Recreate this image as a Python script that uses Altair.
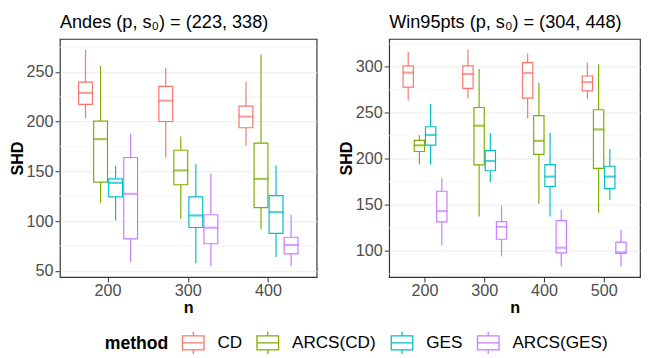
import altair as alt
import pandas as pd

methods = ["CD", "ARCS(CD)", "GES", "ARCS(GES)"]
colors = ["#F8766D", "#7CAE00", "#00BFC4", "#C77CFF"]

# ---- Andes (p, s0) = (223, 338) ----
andes_n = [200, 300, 400]
andes_lo = {"CD": [203.4, 164.1, 175.9], "ARCS(CD)": [118.5, 102.5, 91.6],
            "GES": [100.5, 57.5, 63.8], "ARCS(GES)": [58.9, 54.6, 54.6]}
andes_q1 = {"CD": [217.5, 200.2, 193.9], "ARCS(CD)": [139.2, 136.6, 113.6],
            "GES": [124.4, 93.6, 87.7], "ARCS(GES)": [82.1, 77.2, 67.0]}
andes_med = {"CD": [229.0, 221.1, 205.1], "ARCS(CD)": [182.5, 151.0, 142.5],
             "GES": [138.5, 105.7, 109.0], "ARCS(GES)": [127.4, 93.3, 75.9]}
andes_q3 = {"CD": [239.8, 235.6, 215.6], "ARCS(CD)": [200.5, 171.3, 178.5],
            "GES": [142.5, 124.4, 125.7], "ARCS(GES)": [164.0, 106.4, 83.8]}
andes_hi = {"CD": [272.3, 254.0, 240.2], "ARCS(CD)": [255.9, 185.0, 267.7],
            "GES": [155.6, 157.2, 156.2], "ARCS(GES)": [188.0, 148.0, 106.4]}

# ---- Win95pts (p, s0) = (304, 448) ----
win_n = [200, 300, 400, 500]
win_lo = {"CD": [263.5, 265.7, 243.7, 265.3], "ARCS(CD)": [193.8, 137.5, 151.3, 141.4],
          "GES": [193.8, 175.0, 137.5, 155.2], "ARCS(GES)": [106.0, 94.0, 83.4, 83.4]}
win_q1 = {"CD": [278.0, 276.6, 266.0, 273.8], "ARCS(CD)": [208.0, 193.5, 204.8, 189.6],
          "GES": [215.0, 187.1, 170.0, 167.6], "ARCS(GES)": [131.5, 112.7, 97.9, 97.2]}
win_med = {"CD": [293.6, 292.2, 293.3, 283.4], "ARCS(CD)": [214.7, 236.0, 219.6, 232.0],
           "GES": [226.0, 197.7, 180.7, 180.7], "ARCS(GES)": [143.2, 126.2, 103.5, 98.6]}
win_q3 = {"CD": [301.0, 301.0, 304.6, 290.0], "ARCS(CD)": [220.0, 255.8, 246.9, 253.3],
          "GES": [234.9, 209.0, 193.8, 192.0], "ARCS(GES)": [164.8, 131.9, 132.9, 109.6]}
win_hi = {"CD": [316.3, 318.4, 314.5, 304.6], "ARCS(CD)": [225.7, 297.5, 282.7, 302.8],
          "GES": [259.6, 228.1, 228.1, 210.8], "ARCS(GES)": [179.0, 149.2, 144.6, 122.7]}

andes_major = [50, 100, 150, 200, 250]
andes_minor = [75, 125, 175, 225, 275]
win_major = [100, 150, 200, 250, 300]
win_minor = [75, 125, 175, 225, 275, 325]

FONT = "Liberation Sans"
LEGEND_SYMBOL = "M-1,-0.65H1V0.65H-1Z M-1,0H1 M0,-0.65V-1.03 M0,0.65V1.03"


def build_df(ns, lo, q1, med, q3, hi):
    rows = []
    for m in methods:
        for i, n in enumerate(ns):
            rows.append({"n": str(n), "method": m, "lo": lo[m][i], "q1": q1[m][i],
                         "med": med[m][i], "q3": q3[m][i], "hi": hi[m][i]})
    return pd.DataFrame(rows)


def panel(title, ns, df, domain, major, minor, width, tick_size):
    xs = alt.Scale(paddingInner=0.25, paddingOuter=0.225)
    xaxis = alt.Axis(title="n", bandPosition=0.5, labelAngle=0, labelPadding=1,
                     titlePadding=1, titleFontSize=16.5, titleFontWeight="bold",
                     titleFont=FONT, titleColor="black")
    x = alt.X("n:N", sort=[str(v) for v in ns], scale=xs, axis=xaxis)
    xo = alt.XOffset("method:N", sort=methods,
                     scale=alt.Scale(domain=methods, paddingInner=0.08, paddingOuter=0.04))
    ys = alt.Scale(domain=domain, nice=False, zero=False)
    yaxis = alt.Axis(title="SHD", values=major, labelPadding=2, titlePadding=1,
                     titleFontSize=16.5, titleFontWeight="bold", titleFont=FONT,
                     titleColor="black")
    stroke = alt.Stroke(
        "method:N",
        scale=alt.Scale(domain=methods, range=colors),
        legend=alt.Legend(
            title="method", orient="none", legendX=45.7, legendY=298,
            direction="horizontal", titleOrient="left",
            titleFontSize=18, titleFontWeight="bold", titleFont=FONT, titleColor="black",
            labelFontSize=17.5, labelFont=FONT, labelColor="black",
            symbolType=LEGEND_SYMBOL, symbolSize=484, symbolStrokeWidth=1.3,
            symbolFillColor="white", labelOffset=12.7, columnPadding=12,
            titlePadding=13.4, titleBaseline="middle",
        ),
    )
    base = alt.Chart(df)
    minor_df = pd.DataFrame({"v": minor})
    minor_grid = alt.Chart(minor_df).mark_rule(color="#F2F2F2", strokeWidth=0.8).encode(
        y=alt.Y("v:Q", scale=ys, axis=yaxis, title="SHD"))
    w_lo = base.mark_rule(strokeWidth=1.2).encode(
        x=x, xOffset=xo, y=alt.Y("lo:Q", scale=ys, axis=yaxis, title="SHD"),
        y2="q1:Q", stroke=stroke)
    w_hi = base.mark_rule(strokeWidth=1.2).encode(
        x=x, xOffset=xo, y=alt.Y("q3:Q", scale=ys, axis=yaxis, title="SHD"),
        y2="hi:Q", stroke=stroke)
    box = base.mark_bar(fill="white", strokeWidth=1.2).encode(
        x=x, xOffset=xo, y=alt.Y("q1:Q", scale=ys, axis=yaxis, title="SHD"),
        y2="q3:Q", stroke=stroke)
    med = base.mark_tick(orient="horizontal", filled=False, thickness=0.01,
                         strokeWidth=2.2, size=tick_size).encode(
        x=x, xOffset=xo, y=alt.Y("med:Q", scale=ys, axis=yaxis, title="SHD"),
        stroke=stroke)
    return alt.layer(minor_grid, w_lo, w_hi, box, med).properties(
        width=width, height=243, title=title)


df_andes = build_df(andes_n, andes_lo, andes_q1, andes_med, andes_q3, andes_hi)
df_win = build_df(win_n, win_lo, win_q1, win_med, win_q3, win_hi)

left = panel("Andes (p, s₀) = (223, 338)", andes_n, df_andes, [43.7, 283.2],
             andes_major, andes_minor, 262, 13)
right = panel("Win95pts (p, s₀) = (304, 448)", win_n, df_win, [71.6, 330.2],
              win_major, win_minor, 256, 9.5)

chart = alt.hconcat(left, right, spacing=20).resolve_scale(
    x="independent", y="independent", xOffset="independent",
    stroke="shared").properties(padding=0).configure_view(
    stroke="#333333", strokeWidth=1.2).configure_axis(
    labelFont=FONT, labelFontSize=16.5, labelColor="#4D4D4D",
    tickColor="#333333", tickSize=5, tickWidth=1,
    gridColor="#EBEBEB", gridWidth=1, domain=False,
    titleFont=FONT, titleFontSize=16.5, titleFontWeight="bold", titleColor="black",
).configure_title(
    font=FONT, fontSize=18.5, fontWeight="normal", anchor="start", frame="group",
    color="black", offset=8,
)

chart.save("out.html", embed_options={"renderer": "svg", "actions": False})
